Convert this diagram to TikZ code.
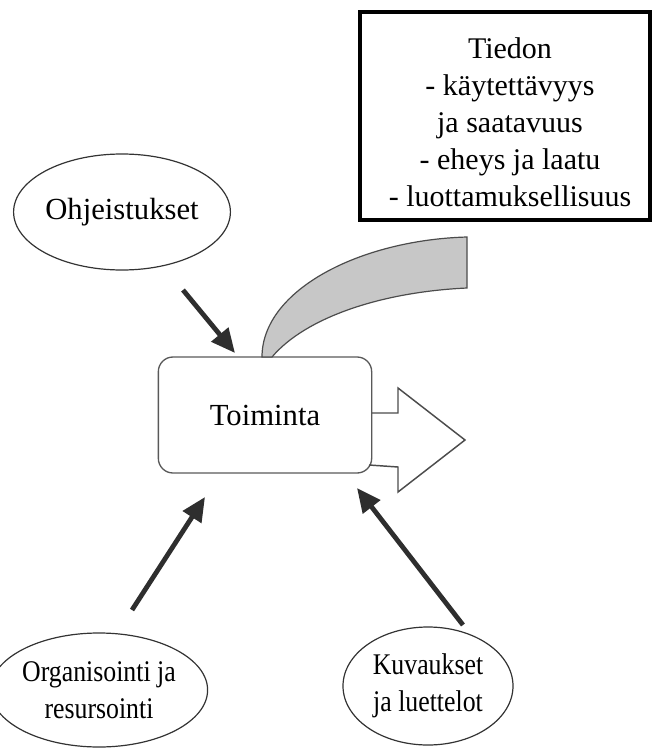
\documentclass[tikz,border=0pt]{standalone}
\usepackage{fontspec}
\setmainfont{Liberation Serif}
\usetikzlibrary{shapes.geometric,arrows.meta}

\newcommand{\narrowline}[1]{\scalebox{0.86}[1]{#1}}

\tikzset{every picture/.style={line width=0.75pt}}
\tikzset{
  txt/.style={font=\fontsize{22.5}{27.75}\selectfont, align=center, inner sep=0pt},
  bigtxt/.style={font=\fontsize{23}{27.75}\selectfont, align=center, inner sep=0pt},
  oval/.style={ellipse, draw=black!80, line width=0.9pt},
  toimbox/.style={bigtxt, rectangle, rounded corners=11pt, draw=black!65, line width=1pt,
    minimum width=160pt, minimum height=87pt},
  tietobox/.style={rectangle, draw=black, line width=2.3pt, inner sep=0pt,
    minimum width=217.5pt, minimum height=156pt},
  bigarrow/.style={line width=3.6pt, draw=black!82, -{Triangle[length=18pt,width=16pt]}},
  band/.style={fill=black!22, draw=black!70, line width=0.9pt},
  blockarrow/.style={draw=black!70, line width=1.1pt, line join=miter}
}

\begin{document}
\begin{tikzpicture}[x=0.75pt,y=0.75pt,yscale=-1,xscale=1]
\useasboundingbox (0,0) rectangle (652,749); %set diagram size 652 x 749

%Shape: Rectangle [id:tieto]
\node[tietobox] (tieto) at (505,116) {};
% Text Node
\node[txt] (tietotxt) at (510,122) {Tiedon\\- käytettävyys\\ja saatavuus\\- eheys ja laatu\\- luottamuksellisuus};

%Shape: Ellipse [id:ohj]
\node[oval, bigtxt, minimum width=162pt, minimum height=87pt] (ohj) at (122,212) {Ohjeistukset};

%Shape: Rounded Rect [id:toim]
\node[toimbox] (toim) at (265,415) {Toiminta};

%Shape: Ellipse [id:org]
\node[oval, txt, minimum width=129pt, minimum height=85.5pt] (org) at (99,690) {\narrowline{Organisointi ja}\\\narrowline{resursointi}};

%Shape: Ellipse [id:kuv]
\node[oval, txt, minimum width=127.5pt, minimum height=88.5pt] (kuv) at (428,686) {\narrowline{Kuvaukset}\\\narrowline{ja luettelot}};

%Shape: Curved band [id:band]
\draw[band] (262,357) .. controls (262,290) and (360,240) .. (467,237) -- (467,288)
  .. controls (380,292) and (305,318) .. (272,357) -- cycle;

%Shape: Right Arrow [id:out]
\path[fill=white] (373,413) -- (398,413) -- (398,388) -- (465,440) -- (398,492) -- (398,467) -- (373,467) -- cycle;
\draw[blockarrow] (372,413) -- (398,413) -- (398,388) -- (465,440) -- (398,492) -- (398,467) -- (369,465);

%Arrows [id:a1..a3]
\coordinate (a1s) at (183,290);
\coordinate (a1e) at (235,353);
\coordinate (a2s) at (132,610);
\coordinate (a2e) at (205,497);
\coordinate (a3s) at (463,625);
\coordinate (a3e) at (357,488);
\draw[bigarrow] (a1s) -- (a1e);
\draw[bigarrow] (a2s) -- (a2e);
\draw[bigarrow] (a3s) -- (a3e);

\end{tikzpicture}
\end{document}
